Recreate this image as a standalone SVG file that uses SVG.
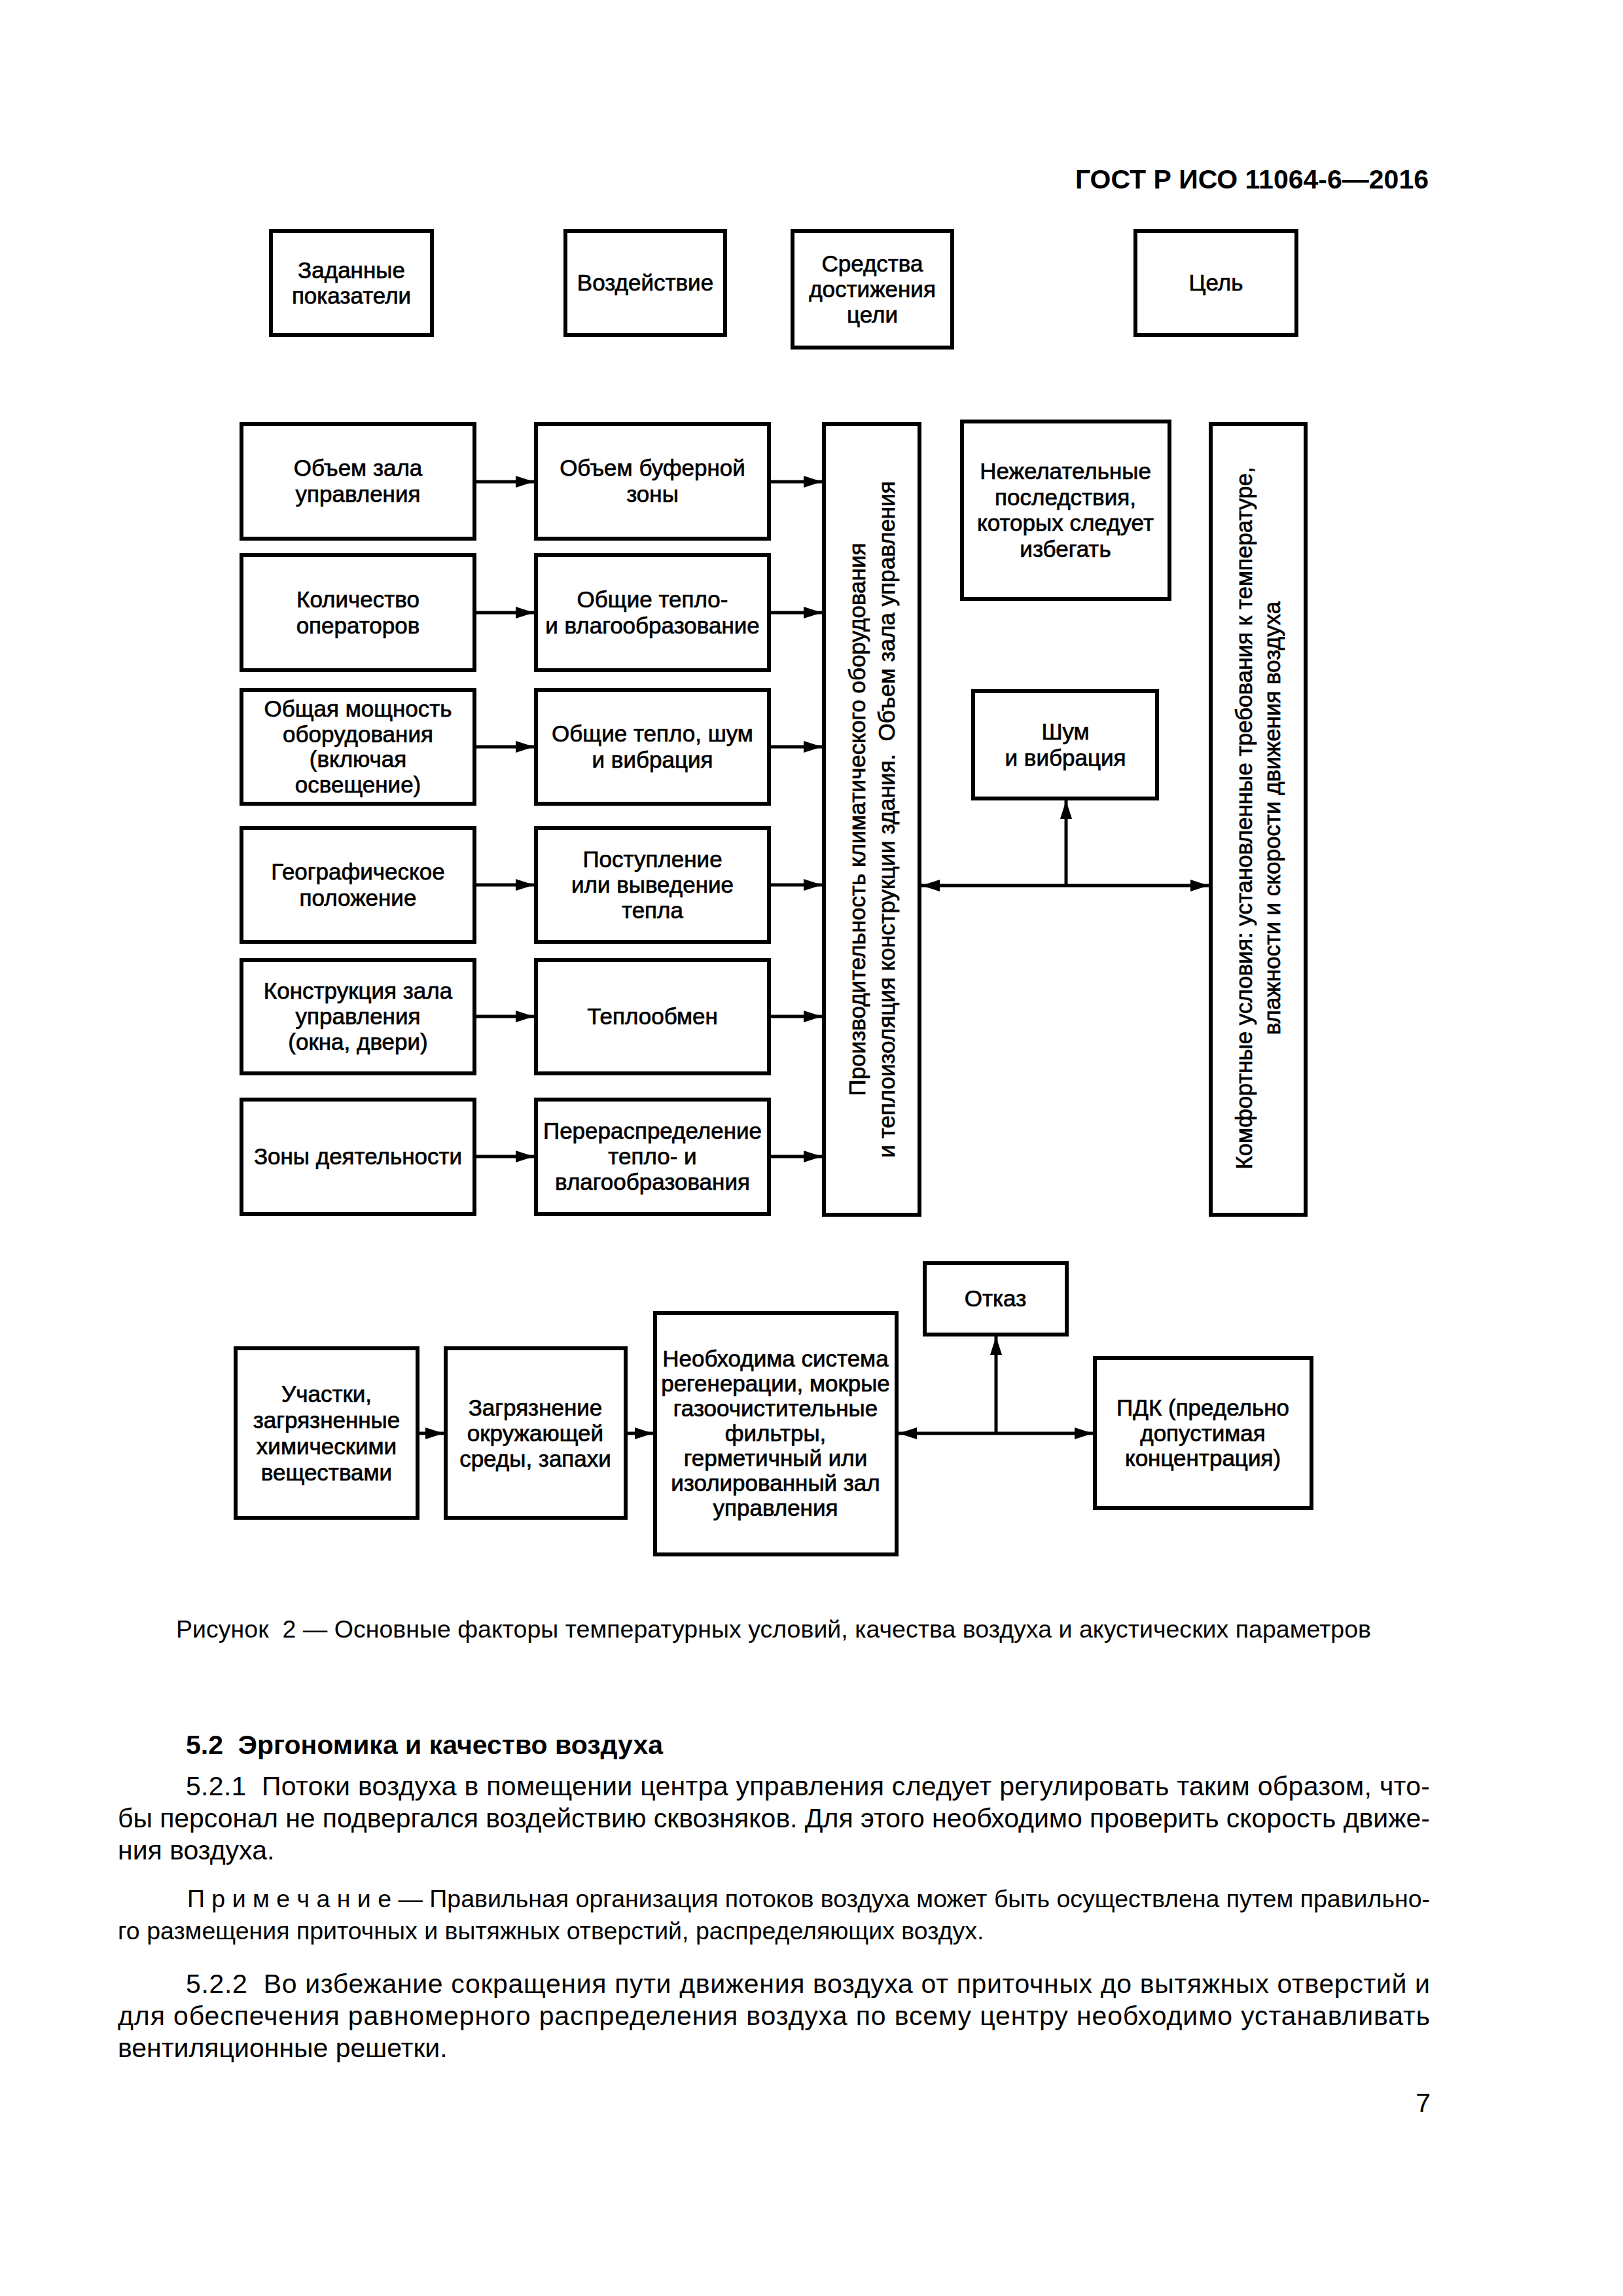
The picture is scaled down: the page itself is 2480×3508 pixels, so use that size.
<svg xmlns="http://www.w3.org/2000/svg" width="2480" height="3508" viewBox="0 0 2480 3508">
<style>
.bg{fill:#fff}
.box{fill:#fff;stroke:#000;stroke-width:6}
.t{font-family:"Liberation Sans",Arial,sans-serif;font-size:35px;fill:#000;stroke:#000;stroke-width:0.7;text-anchor:middle}
.con{stroke:#000;stroke-width:5;fill:none}
.hdr{font-family:"Liberation Sans",Arial,sans-serif;font-size:41px;font-weight:bold;fill:#000}
.body{font-family:"Liberation Sans",Arial,sans-serif;font-size:41px;fill:#000}
.small{font-family:"Liberation Sans",Arial,sans-serif;font-size:37.5px;fill:#000}
</style>
<defs>
<marker id="ah" viewBox="0 0 28 18" refX="28" refY="9" markerWidth="28" markerHeight="18" markerUnits="userSpaceOnUse" orient="auto-start-reverse">
<path d="M0,0 L28,9 L0,18 z" fill="#000"/>
</marker>
</defs>
<rect class="bg" x="0" y="0" width="2480" height="3508"/>

<text class="hdr" x="2183" y="288" text-anchor="end">ГОСТ Р ИСО 11064-6—2016</text>

<!-- header row -->
<g id="h1"><rect class="box" x="414" y="353" width="246" height="159"/><text class="t" x="537" y="425">Заданные</text><text class="t" x="537" y="464">показатели</text></g>
<g id="h2"><rect class="box" x="864" y="353" width="244" height="159"/><text class="t" x="986" y="444">Воздействие</text></g>
<g id="h3"><rect class="box" x="1211" y="353" width="244" height="178"/><text class="t" x="1333" y="415">Средства</text><text class="t" x="1333" y="454">достижения</text><text class="t" x="1333" y="493">цели</text></g>
<g id="h4"><rect class="box" x="1735" y="353" width="246" height="159"/><text class="t" x="1858" y="444">Цель</text></g>

<!-- column 1 -->
<g id="a1"><rect class="box" x="369" y="648" width="356" height="175"/><text class="t" x="547" y="727">Объем зала</text><text class="t" x="547" y="767">управления</text></g>
<g id="a2"><rect class="box" x="369" y="848" width="356" height="176"/><text class="t" x="547" y="928">Количество</text><text class="t" x="547" y="968">операторов</text></g>
<g id="a3"><rect class="box" x="369" y="1054" width="356" height="174"/><text class="t" x="547" y="1095">Общая мощность</text><text class="t" x="547" y="1134">оборудования</text><text class="t" x="547" y="1172">(включая</text><text class="t" x="547" y="1211">освещение)</text></g>
<g id="a4"><rect class="box" x="369" y="1265" width="356" height="174"/><text class="t" x="547" y="1344">Географическое</text><text class="t" x="547" y="1384">положение</text></g>
<g id="a5"><rect class="box" x="369" y="1467" width="356" height="173"/><text class="t" x="547" y="1526">Конструкция зала</text><text class="t" x="547" y="1565">управления</text><text class="t" x="547" y="1604">(окна, двери)</text></g>
<g id="a6"><rect class="box" x="369" y="1680" width="356" height="175"/><text class="t" x="547" y="1779">Зоны деятельности</text></g>

<!-- column 2 -->
<g id="b1"><rect class="box" x="819" y="648" width="356" height="175"/><text class="t" x="997" y="727">Объем буферной</text><text class="t" x="997" y="767">зоны</text></g>
<g id="b2"><rect class="box" x="819" y="848" width="356" height="176"/><text class="t" x="997" y="928">Общие тепло-</text><text class="t" x="997" y="968">и влагообразование</text></g>
<g id="b3"><rect class="box" x="819" y="1054" width="356" height="174"/><text class="t" x="997" y="1133">Общие тепло, шум</text><text class="t" x="997" y="1173">и вибрация</text></g>
<g id="b4"><rect class="box" x="819" y="1265" width="356" height="174"/><text class="t" x="997" y="1325">Поступление</text><text class="t" x="997" y="1364">или выведение</text><text class="t" x="997" y="1403">тепла</text></g>
<g id="b5"><rect class="box" x="819" y="1467" width="356" height="173"/><text class="t" x="997" y="1565">Теплообмен</text></g>
<g id="b6"><rect class="box" x="819" y="1680" width="356" height="175"/><text class="t" x="997" y="1740">Перераспределение</text><text class="t" x="997" y="1779">тепло- и</text><text class="t" x="997" y="1818">влагообразования</text></g>

<!-- tall boxes -->
<g id="c1"><rect class="box" x="1259" y="648" width="146" height="1208"/>
<text class="t" transform="translate(1322,1252) rotate(-90)">Производительность климатического оборудования</text>
<text class="t" transform="translate(1367,1252) rotate(-90)" xml:space="preserve">и теплоизоляция конструкции здания.  Объем зала управления</text></g>
<g id="d1"><rect class="box" x="1470" y="644" width="317" height="271"/><text class="t" x="1628" y="732">Нежелательные</text><text class="t" x="1628" y="772">последствия,</text><text class="t" x="1628" y="811">которых следует</text><text class="t" x="1628" y="851">избегать</text></g>
<g id="d2"><rect class="box" x="1487" y="1056" width="281" height="164"/><text class="t" x="1628" y="1130">Шум</text><text class="t" x="1628" y="1170">и вибрация</text></g>
<g id="e1"><rect class="box" x="1850" y="648" width="145" height="1208"/>
<text class="t" transform="translate(1913,1250) rotate(-90)">Комфортные условия: установленные требования к температуре,</text>
<text class="t" transform="translate(1956,1250) rotate(-90)">влажности и скорости движения воздуха</text></g>

<!-- bottom section -->
<g id="f1"><rect class="box" x="360" y="2060" width="278" height="259"/><text class="t" x="499" y="2142">Участки,</text><text class="t" x="499" y="2182">загрязненные</text><text class="t" x="499" y="2222">химическими</text><text class="t" x="499" y="2262">веществами</text></g>
<g id="f2"><rect class="box" x="681" y="2060" width="275" height="259"/><text class="t" x="818" y="2163">Загрязнение</text><text class="t" x="818" y="2202">окружающей</text><text class="t" x="818" y="2241">среды, запахи</text></g>
<g id="f3"><rect class="box" x="1001" y="2006" width="369" height="369"/><text class="t" x="1185" y="2088">Необходима система</text><text class="t" x="1185" y="2126">регенерации, мокрые</text><text class="t" x="1185" y="2164">газоочистительные</text><text class="t" x="1185" y="2202">фильтры,</text><text class="t" x="1185" y="2240">герметичный или</text><text class="t" x="1185" y="2278">изолированный зал</text><text class="t" x="1185" y="2316">управления</text></g>
<g id="f4"><rect class="box" x="1413" y="1930" width="217" height="109"/><text class="t" x="1521" y="1996">Отказ</text></g>
<g id="f5"><rect class="box" x="1673" y="2075" width="331" height="229"/><text class="t" x="1838" y="2163">ПДК (предельно</text><text class="t" x="1838" y="2202">допустимая</text><text class="t" x="1838" y="2240">концентрация)</text></g>

<g id="connectors">
<line class="con" x1="725" y1="736" x2="816" y2="736" marker-end="url(#ah)"/>
<line class="con" x1="725" y1="936" x2="816" y2="936" marker-end="url(#ah)"/>
<line class="con" x1="725" y1="1141" x2="816" y2="1141" marker-end="url(#ah)"/>
<line class="con" x1="725" y1="1352" x2="816" y2="1352" marker-end="url(#ah)"/>
<line class="con" x1="725" y1="1553" x2="816" y2="1553" marker-end="url(#ah)"/>
<line class="con" x1="725" y1="1767" x2="816" y2="1767" marker-end="url(#ah)"/>
<line class="con" x1="1175" y1="736" x2="1256" y2="736" marker-end="url(#ah)"/>
<line class="con" x1="1175" y1="936" x2="1256" y2="936" marker-end="url(#ah)"/>
<line class="con" x1="1175" y1="1141" x2="1256" y2="1141" marker-end="url(#ah)"/>
<line class="con" x1="1175" y1="1352" x2="1256" y2="1352" marker-end="url(#ah)"/>
<line class="con" x1="1175" y1="1553" x2="1256" y2="1553" marker-end="url(#ah)"/>
<line class="con" x1="1175" y1="1767" x2="1256" y2="1767" marker-end="url(#ah)"/>
<line class="con" x1="1408" y1="1353" x2="1847" y2="1353" marker-start="url(#ah)" marker-end="url(#ah)"/>
<line class="con" x1="1629" y1="1353" x2="1629" y2="1223" marker-end="url(#ah)"/>
<line class="con" x1="638" y1="2190" x2="678" y2="2190" marker-end="url(#ah)"/>
<line class="con" x1="956" y1="2190" x2="998" y2="2190" marker-end="url(#ah)"/>
<line class="con" x1="1373" y1="2190" x2="1670" y2="2190" marker-start="url(#ah)" marker-end="url(#ah)"/>
<line class="con" x1="1522" y1="2190" x2="1522" y2="2042" marker-end="url(#ah)"/>
</g>

<text class="small" x="269" y="2502" textLength="1826" lengthAdjust="spacing" xml:space="preserve">Рисунок  2 — Основные факторы температурных условий, качества воздуха и акустических параметров</text>

<text class="hdr" x="284" y="2680" xml:space="preserve">5.2  Эргономика и качество воздуха</text>
<text class="body" x="284" y="2743" textLength="1901" lengthAdjust="spacing" xml:space="preserve">5.2.1  Потоки воздуха в помещении центра управления следует регулировать таким образом, что-</text>
<text class="body" x="180" y="2792" textLength="2005" lengthAdjust="spacing">бы персонал не подвергался воздействию сквозняков. Для этого необходимо проверить скорость движе-</text>
<text class="body" x="180" y="2841">ния воздуха.</text>
<text class="small" x="286" y="2914" textLength="1899" lengthAdjust="spacing">П р и м е ч а н и е — Правильная организация потоков воздуха может быть осуществлена путем правильно-</text>
<text class="small" x="180" y="2963">го размещения приточных и вытяжных отверстий, распределяющих воздух.</text>
<text class="body" x="284" y="3045" textLength="1901" lengthAdjust="spacing" xml:space="preserve">5.2.2  Во избежание сокращения пути движения воздуха от приточных до вытяжных отверстий и</text>
<text class="body" x="180" y="3094" textLength="2005" lengthAdjust="spacing">для обеспечения равномерного распределения воздуха по всему центру необходимо устанавливать</text>
<text class="body" x="180" y="3143">вентиляционные решетки.</text>
<text class="body" x="2186" y="3227" text-anchor="end">7</text>
</svg>
